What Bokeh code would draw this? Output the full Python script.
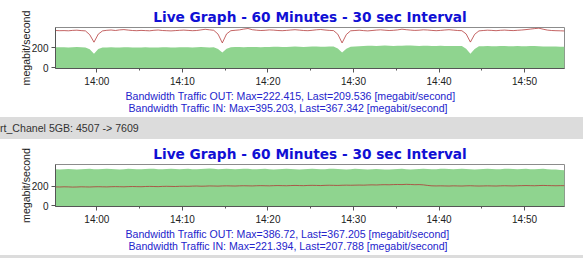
import numpy as np
from bokeh.plotting import figure
from bokeh.models import Range1d, FixedTicker, DatetimeTickFormatter, Title, Div
from bokeh.layouts import column
from bokeh.embed import file_html
from bokeh.resources import INLINE

# ---------------- data ----------------
start_time = "2024-01-01T13:55:10"
step_seconds = 30
tick_labels = ["14:00", "14:10", "14:20", "14:30", "14:40", "14:50"]
minor_labels = ["14:05", "14:15", "14:25", "14:35", "14:45"]
y_ticks = [0, 200]

chart_title = "Live Graph - 60 Minutes - 30 sec Interval"
y_label = "megabit/second"
band_text = "rt_Chanel 5GB: 4507 -> 7609"

# chart 1
out1 = [204, 205, 204, 203, 205, 206, 204, 203, 185, 140,
        186, 202, 203, 204, 202, 203, 205, 204, 202, 201,
        203, 204, 202, 201, 203, 205, 204, 202, 203, 204,
        205, 204, 203, 205, 206, 204, 203, 204, 188, 152,
        190, 204, 206, 207, 205, 206, 208, 207, 205, 206,
        208, 210, 209, 207, 208, 210, 211, 209, 208, 210,
        211, 212, 210, 209, 211, 212, 192, 152, 190, 210,
        213, 215, 217, 219, 220, 218, 219, 221, 220, 218,
        219, 220, 222.415, 221, 219, 218, 220, 219, 217, 218,
        219, 218, 216, 217, 218, 216, 190, 140, 188, 214,
        215, 216, 214, 215, 217, 216, 214, 215, 216, 214,
        215, 217, 216, 214, 213, 212, 213, 211, 210, 209.536]
in1 = [372, 370, 371, 369, 373, 375, 371, 368, 330, 255,
       336, 368, 374, 377, 372, 378, 381, 376, 372, 370,
       373, 371, 369, 374, 377, 372, 370, 368, 371, 374,
       376, 373, 370, 372, 378, 384, 379, 374, 336, 248,
       338, 370, 374, 378, 386, 392, 380, 375, 372, 374,
       378, 376, 372, 370, 373, 377, 380, 376, 372, 370,
       374, 379, 382, 377, 373, 371, 335, 248, 332, 369,
       372, 375, 371, 368, 372, 376, 379, 375, 372, 374,
       378, 385, 380, 376, 373, 375, 379, 377, 373, 370,
       373, 377, 380, 376, 372, 370, 338, 256, 334, 368,
       372, 375, 373, 370, 374, 376, 373, 371, 374, 377,
       381, 386, 391, 395.203, 385, 376, 372, 370, 369, 367.342]
legend1_out = "Bandwidth Traffic OUT: Max=222.415, Last=209.536 [megabit/second]"
legend1_in = "Bandwidth Traffic IN: Max=395.203, Last=367.342 [megabit/second]"

# chart 2
out2 = [378, 376, 379, 381, 377, 375, 378, 380, 382, 379,
        377, 380, 383, 381, 378, 376, 379, 382, 380, 377,
        379, 381, 384, 382, 379, 377, 380, 383, 381, 378,
        380, 382, 379, 377, 380, 384, 386.72, 382, 379, 381,
        383, 380, 378, 381, 384, 382, 379, 377, 380, 382,
        379, 376, 378, 381, 383, 380, 377, 375, 378, 381,
        383, 380, 377, 379, 382, 384, 381, 378, 376, 379,
        382, 380, 377, 375, 378, 381, 379, 376, 374, 377,
        380, 382, 379, 376, 378, 381, 383, 380, 377, 379,
        382, 384, 381, 378, 380, 383, 381, 378, 376, 379,
        381, 383, 380, 377, 379, 382, 384, 381, 378, 380,
        382, 379, 377, 380, 382, 379, 376, 374, 371, 367.205]
in2 = [195, 194, 196, 195, 193, 194, 196, 195, 194, 196,
       197, 196, 195, 197, 198, 197, 196, 198, 199, 198,
       197, 199, 200, 199, 198, 200, 201, 200, 199, 201,
       202, 201, 203, 204, 202, 203, 205, 204, 203, 205,
       206, 205, 204, 206, 207, 206, 205, 207, 208, 207,
       206, 208, 209, 208, 207, 209, 210, 209, 208, 210,
       211, 210, 209, 211, 212, 211, 210, 212, 213, 212,
       213, 214, 213, 215, 216, 215, 217, 218, 217, 219,
       220, 219, 221.394, 220, 218, 219, 216, 210, 206, 205,
       206, 205, 204, 206, 205, 204, 206, 207, 205, 204,
       205, 206, 205, 204, 206, 207, 206, 205, 207, 208,
       209, 208, 207, 209, 210, 209, 208, 207, 208, 207.788]
legend2_out = "Bandwidth Traffic OUT: Max=386.72, Last=367.205 [megabit/second]"
legend2_in = "Bandwidth Traffic IN: Max=221.394, Last=207.788 [megabit/second]"

# ---------------- helpers ----------------
EPOCH = np.datetime64("1970-01-01T00:00:00")


def to_ms(dt64):
    return float((dt64 - EPOCH) / np.timedelta64(1, "ms"))


t0 = np.datetime64(start_time)
times = t0 + np.arange(len(out1)) * np.timedelta64(step_seconds, "s")
times_ms = [to_ms(t) for t in times]
day = start_time[:11]
major_ms = [to_ms(np.datetime64(day + lab + ":00")) for lab in tick_labels]
minor_ms = [to_ms(np.datetime64(day + lab + ":00")) for lab in minor_labels]

GREEN = "#8fd48f"
RED = "#b03030"
TITLE_BLUE = "#1010d4"
LEGEND_BLUE = "#2424cc"
SMALL_FONT = "Liberation Sans"
SMALL_SIZE = "10.6px"
TICK_SIZE = "10px"


def make_chart(out_vals, in_vals, y_top, leg_out, leg_in, height, top_border):
    y0 = -8
    p = figure(width=583, height=height, output_backend="svg", toolbar_location=None,
               x_range=Range1d(times_ms[0], times_ms[-1]), y_range=Range1d(y0, y_top),
               x_axis_type="datetime",
               min_border_left=55, min_border_right=19, min_border_top=top_border,
               min_border_bottom=49)
    p.background_fill_color = "white"
    p.border_fill_color = "white"
    p.outline_line_color = "#8c8c8c"
    p.grid.visible = False

    p.varea(x=times_ms, y1=y0, y2=out_vals, fill_color=GREEN)
    p.line(x=times_ms, y=in_vals, line_color=RED, line_alpha=0.75, line_width=1)

    p.title.text = chart_title
    p.title.align = "center"
    p.title.text_font = "DejaVu Sans"
    p.title.text_font_style = "bold"
    p.title.text_font_size = "13.7px"
    p.title.text_color = TITLE_BLUE
    p.title.standoff = 5

    xa = p.xaxis[0]
    xa.ticker = FixedTicker(ticks=major_ms, minor_ticks=minor_ms)
    xa.formatter = DatetimeTickFormatter(minsec="%H:%M", minutes="%H:%M",
                                         hourmin="%H:%M", hours="%H:%M")
    ya = p.yaxis[0]
    ya.ticker = FixedTicker(ticks=y_ticks, minor_ticks=[])
    ya.axis_label = y_label
    ya.axis_label_text_font_style = "normal"
    ya.axis_label_text_font = SMALL_FONT
    ya.axis_label_text_font_size = SMALL_SIZE
    ya.axis_label_text_color = "#222222"
    ya.axis_label_standoff = -3
    for ax in (xa, ya):
        ax.axis_line_color = "#555555"
        ax.major_tick_line_color = "#555555"
        ax.minor_tick_line_color = "#555555"
        ax.major_tick_in = 0
        ax.major_tick_out = 4
        ax.minor_tick_in = 0
        ax.minor_tick_out = 2
        ax.major_label_standoff = 3
        ax.major_label_text_font = SMALL_FONT
        ax.major_label_text_font_size = TICK_SIZE
        ax.major_label_text_color = "#222222"

    for txt, off, so in ((leg_out, 70, -3), (leg_in, 73, -2)):
        t = Title(text=txt, align="left", offset=off, text_font=SMALL_FONT,
                  text_font_size=SMALL_SIZE, text_font_style="normal",
                  text_color=LEGEND_BLUE, standoff=so)
        p.add_layout(t, "below")
    return p


p1 = make_chart(out1, in1, 402, legend1_out, legend1_in, 117, 27)
band = Div(text=band_text, width=583, height=22, margin=(0, 0, 0, 0),
           styles={"background-color": "#dcdcdc", "font-family": SMALL_FONT,
                   "font-size": SMALL_SIZE, "color": "#333333", "line-height": "22px",
                   "white-space": "nowrap", "overflow": "hidden"})
p2 = make_chart(out2, in2, 427, legend2_out, legend2_in, 116, 25)
bottom = Div(text="", width=583, height=3, margin=(0, 0, 0, 0),
             styles={"background-color": "#dcdcdc"})

layout = column(p1, band, p2, bottom, spacing=0)
open("out.html", "w").write(file_html(layout, INLINE))
